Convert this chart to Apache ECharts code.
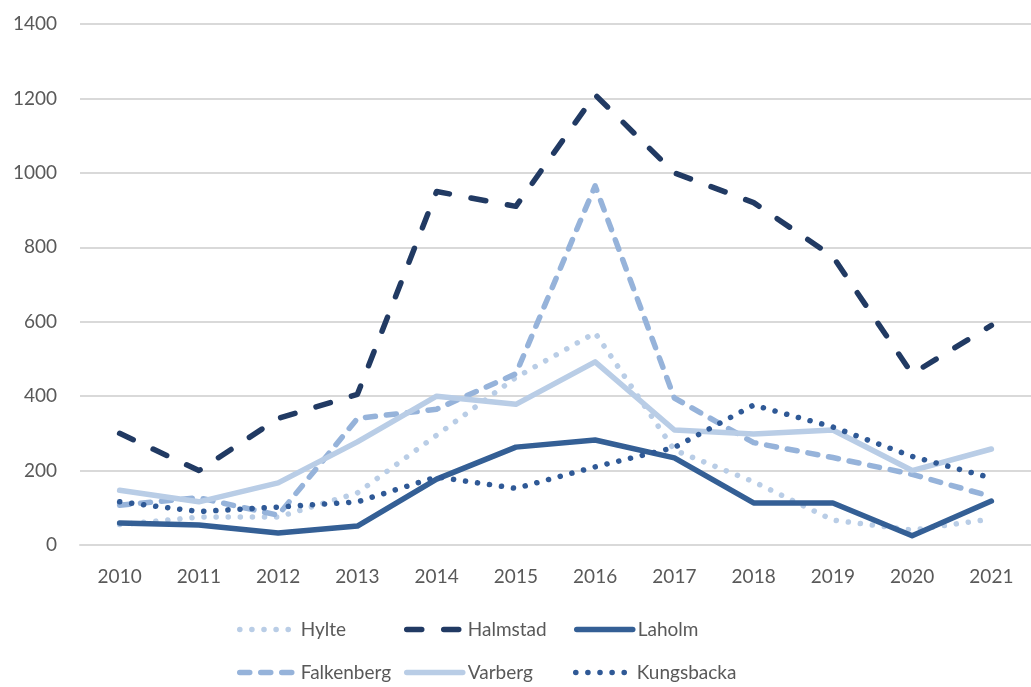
<!DOCTYPE html>
<html>
<head>
<meta charset="utf-8">
<script src="https://cdn.jsdelivr.net/npm/echarts@6/dist/echarts.min.js"></script>
<style>html,body{margin:0;padding:0;background:#fff}#c{width:1031px;height:687px}</style>
</head>
<body>
<div id="c"></div>
<script>
const years = ['2010','2011','2012','2013','2014','2015','2016','2017','2018','2019','2020','2021'];
const hylte      = [55, 75, 75, 140, 295, 450, 570, 255, 170, 67, 40, 70];
const halmstad   = [300, 200, 340, 405, 950, 910, 1210, 1000, 920, 775, 460, 590];
const laholm     = [59, 54, 32, 51, 177, 263, 282, 234, 113, 113, 25, 118];
const falkenberg = [107, 127, 80, 340, 365, 460, 965, 395, 275, 235, 190, 130];
const varberg    = [147, 116, 167, 277, 400, 378, 492, 309, 298, 309, 200, 258];
const kungsbacka = [116, 90, 102, 116, 183, 152, 210, 262, 376, 317, 238, 180];
const yTicks = [0, 200, 400, 600, 800, 1000, 1200, 1400];

const FONT = 'Lato';
const TXT = '#595959';
const LW = 5.5;

const styles = {
  Hylte:      { color: '#b9cde6', type: [0.1, 12] },
  Halmstad:   { color: '#213a63', type: [15, 22] },
  Laholm:     { color: '#345f95', type: 'solid' },
  Falkenberg: { color: '#96b3da', type: [10, 11] },
  Varberg:    { color: '#b9cde6', type: 'solid' },
  Kungsbacka: { color: '#2f5996', type: [0.1, 12] }
};

function mk(name, data) {
  const s = styles[name];
  return {
    name, type: 'line', data, showSymbol: false, symbol: 'none', smooth: false,
    lineStyle: { color: s.color, width: LW, type: s.type, cap: 'round', join: 'round' },
    itemStyle: { color: s.color },
    emphasis: { disabled: true }
  };
}
const series = [
  mk('Hylte', hylte),
  mk('Halmstad', halmstad),
  mk('Laholm', laholm),
  mk('Falkenberg', falkenberg),
  mk('Varberg', varberg),
  mk('Kungsbacka', kungsbacka)
];
const legPos = [
  ['Hylte', 237, 620], ['Halmstad', 404, 620], ['Laholm', 574, 620],
  ['Falkenberg', 237, 663], ['Varberg', 404, 663], ['Kungsbacka', 573, 663]
];
const legends = legPos.map(([n, x, y]) => ({
  data: [n], left: x, top: y, itemWidth: 56, itemHeight: 20, padding: 0,
  textStyle: { fontFamily: FONT, fontSize: 19, color: TXT },
  itemStyle: { color: 'rgba(0,0,0,0)', borderWidth: 0, opacity: 0 },
  lineStyle: { width: LW, color: styles[n].color, type: styles[n].type, cap: 'round' },
  selectedMode: false
}));

const chart = echarts.init(document.getElementById('c'), null, { renderer: 'canvas' });
chart.setOption({
  animation: false,
  backgroundColor: '#fff',
  textStyle: { fontFamily: FONT },
  grid: { left: 80, top: 24, width: 964, bottom: 142, containLabel: false },
  legend: legends,
  xAxis: {
    type: 'category', data: years, boundaryGap: true,
    axisLine: { show: true, lineStyle: { color: '#d9d9d9', width: 2 } },
    axisTick: { show: false },
    axisLabel: { fontFamily: FONT, fontSize: 19, color: TXT, margin: 22, interval: 0 }
  },
  yAxis: {
    type: 'value', min: 0, max: 1400, interval: 200,
    axisLine: { show: false }, axisTick: { show: false },
    splitLine: { lineStyle: { color: '#d9d9d9', width: 2 } },
    axisLabel: { fontFamily: FONT, fontSize: 19, color: TXT, margin: 23,
      formatter: v => yTicks.includes(v) ? String(v) : '' }
  },
  series
});
</script>
</body>
</html>
